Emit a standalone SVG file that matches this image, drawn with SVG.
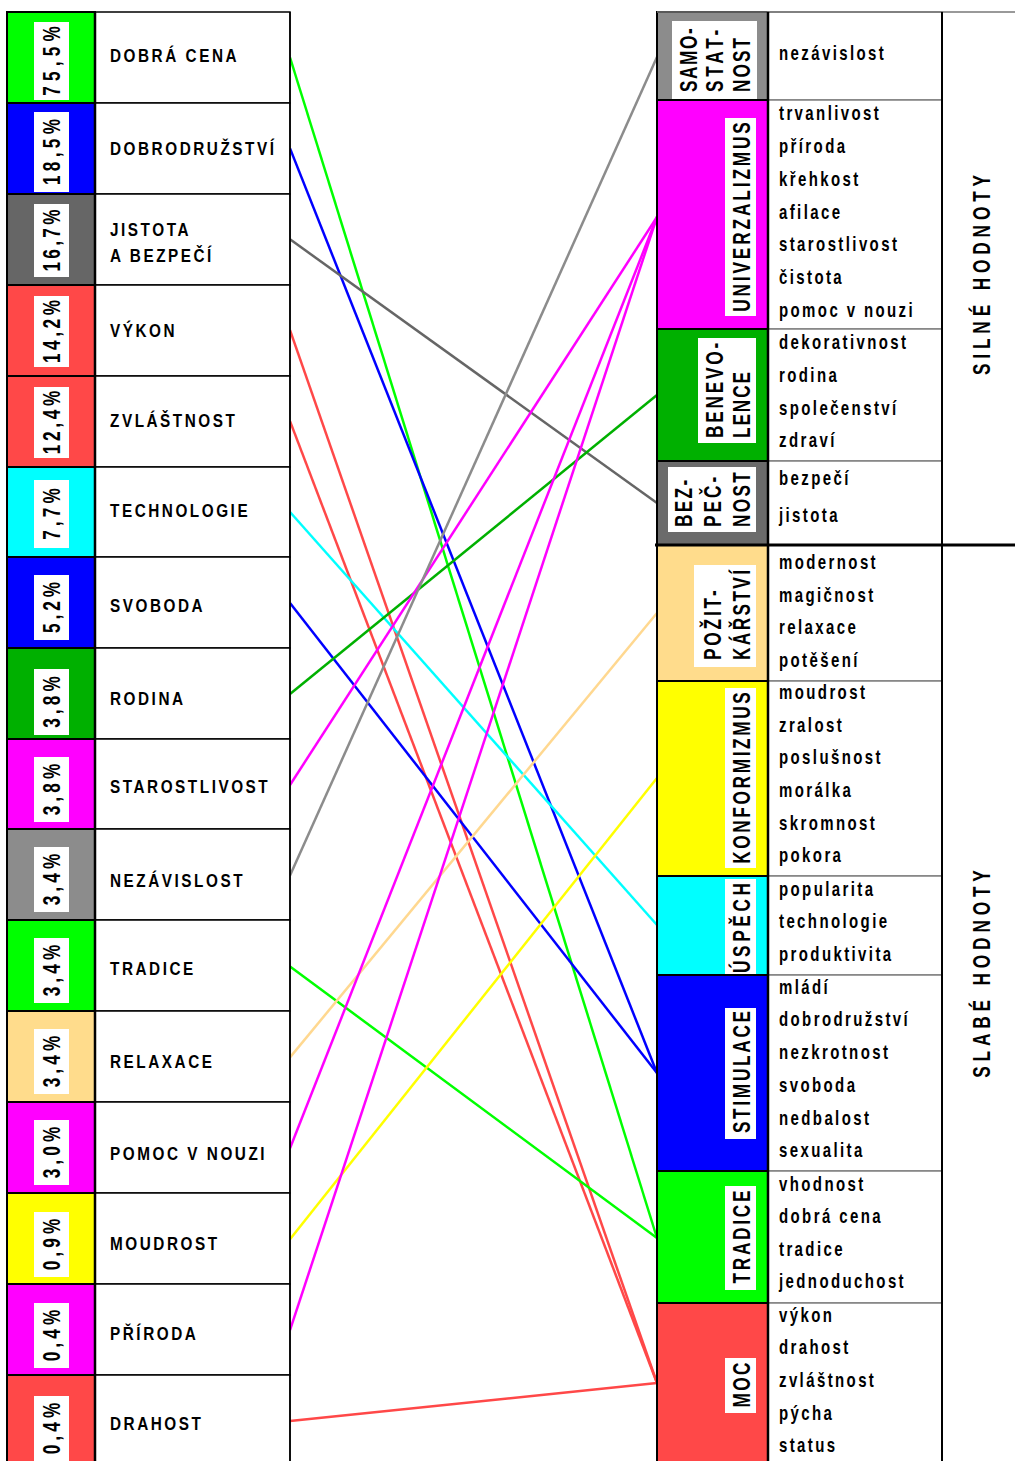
<svg xmlns="http://www.w3.org/2000/svg" width="1015" height="1461" viewBox="0 0 1015 1461">
<style>
text{font-family:"Liberation Sans",Arial,sans-serif;font-weight:bold;fill:#000}
.c{stroke:#000;stroke-width:2}
.t{fill:#fff;stroke:#000;stroke-width:1.5}
.li{fill:#fff;stroke:#808080;stroke-width:1.5}
.wb{fill:#fff}
.pct{font-size:23px;text-anchor:middle}
.lbl{font-size:18px;letter-spacing:3px}
.it{font-size:20px;letter-spacing:3.2px}
.vl{font-size:23px}
.vm{font-size:23px;text-anchor:middle}
.big{font-size:23px;text-anchor:middle}
#connectors line{stroke-width:2.5;fill:none}
</style>
<rect width="1015" height="1461" fill="#fff"/>

<g id="connectors">
<line x1="290" y1="57.5" x2="657" y2="1238" stroke="#00ff00"/>
<line x1="290" y1="148.4" x2="657" y2="1073" stroke="#0000ff"/>
<line x1="290" y1="239.3" x2="657" y2="503" stroke="#666666"/>
<line x1="290" y1="330.2" x2="657" y2="1383" stroke="#ff4848"/>
<line x1="290" y1="421.1" x2="657" y2="1383" stroke="#ff4848"/>
<line x1="290" y1="512" x2="657" y2="925" stroke="#00ffff"/>
<line x1="290" y1="603" x2="657" y2="1073" stroke="#0000ff"/>
<line x1="290" y1="694" x2="657" y2="395" stroke="#00b000"/>
<line x1="290" y1="785" x2="657" y2="217" stroke="#ff00ff"/>
<line x1="290" y1="875.6" x2="657" y2="57" stroke="#8c8c8c"/>
<line x1="290" y1="966.5" x2="657" y2="1238" stroke="#00ff00"/>
<line x1="290" y1="1057.4" x2="657" y2="613" stroke="#ffd890"/>
<line x1="290" y1="1148.3" x2="657" y2="217" stroke="#ff00ff"/>
<line x1="290" y1="1239.2" x2="657" y2="778" stroke="#ffff00"/>
<line x1="290" y1="1330.1" x2="657" y2="217" stroke="#ff00ff"/>
<line x1="290" y1="1421" x2="657" y2="1383" stroke="#ff4848"/>
</g>

<!-- LEFT COLUMN -->
<g id="l-dobra-cena">
<rect class="c" x="7" y="12" width="88" height="91" fill="#00ff00"/><rect class="t" x="95" y="12" width="195" height="91"/>
<rect class="wb" x="34" y="22" width="35" height="78"/>
<text class="pct" transform="translate(60,61) rotate(-90) scale(0.75,1)" textLength="93" lengthAdjust="spacing">75,5%</text>
<text class="lbl" transform="translate(110,62) scale(0.85,1)">DOBRÁ CENA</text>
</g>
<g id="l-dobrodruzstvi">
<rect class="c" x="7" y="103" width="88" height="91" fill="#0000ff"/><rect class="t" x="95" y="103" width="195" height="91"/>
<rect class="wb" x="34" y="112" width="35" height="80"/>
<text class="pct" transform="translate(60,152) rotate(-90) scale(0.75,1)" textLength="88" lengthAdjust="spacing">18,5%</text>
<text class="lbl" transform="translate(110,155) scale(0.85,1)">DOBRODRUŽSTVÍ</text>
</g>
<g id="l-jistota">
<rect class="c" x="7" y="194" width="88" height="91" fill="#666666"/><rect class="t" x="95" y="194" width="195" height="91"/>
<rect class="wb" x="34" y="204" width="35" height="73"/>
<text class="pct" transform="translate(60,240.5) rotate(-90) scale(0.75,1)" textLength="83" lengthAdjust="spacing">16,7%</text>
<text class="lbl" transform="translate(110,236) scale(0.85,1)">JISTOTA</text>
<text class="lbl" transform="translate(110,262) scale(0.85,1)">A BEZPEČÍ</text>
</g>
<g id="l-vykon">
<rect class="c" x="7" y="285" width="88" height="91" fill="#ff4848"/><rect class="t" x="95" y="285" width="195" height="91"/>
<rect class="wb" x="34" y="296" width="35" height="71"/>
<text class="pct" transform="translate(60,331.5) rotate(-90) scale(0.75,1)" textLength="84" lengthAdjust="spacing">14,2%</text>
<text class="lbl" transform="translate(110,336.5) scale(0.85,1)">VÝKON</text>
</g>
<g id="l-zvlastnost">
<rect class="c" x="7" y="376" width="88" height="91" fill="#ff4848"/><rect class="t" x="95" y="376" width="195" height="91"/>
<rect class="wb" x="34" y="387" width="35" height="71"/>
<text class="pct" transform="translate(60,422.5) rotate(-90) scale(0.75,1)" textLength="85" lengthAdjust="spacing">12,4%</text>
<text class="lbl" transform="translate(110,427) scale(0.85,1)">ZVLÁŠTNOST</text>
</g>
<g id="l-technologie">
<rect class="c" x="7" y="467" width="88" height="90" fill="#00ffff"/><rect class="t" x="95" y="467" width="195" height="90"/>
<rect class="wb" x="34" y="480" width="35" height="68"/>
<text class="pct" transform="translate(60,514) rotate(-90) scale(0.75,1)" textLength="69" lengthAdjust="spacing">7,7%</text>
<text class="lbl" transform="translate(110,517) scale(0.85,1)">TECHNOLOGIE</text>
</g>
<g id="l-svoboda">
<rect class="c" x="7" y="557" width="88" height="91" fill="#0000ff"/><rect class="t" x="95" y="557" width="195" height="91"/>
<rect class="wb" x="34" y="575" width="35" height="65"/>
<text class="pct" transform="translate(60,607.5) rotate(-90) scale(0.75,1)" textLength="68" lengthAdjust="spacing">5,2%</text>
<text class="lbl" transform="translate(110,611.5) scale(0.85,1)">SVOBODA</text>
</g>
<g id="l-rodina">
<rect class="c" x="7" y="648" width="88" height="91" fill="#00b000"/><rect class="t" x="95" y="648" width="195" height="91"/>
<rect class="wb" x="34" y="669" width="35" height="66"/>
<text class="pct" transform="translate(60,702) rotate(-90) scale(0.75,1)" textLength="69" lengthAdjust="spacing">3,8%</text>
<text class="lbl" transform="translate(110,705) scale(0.85,1)">RODINA</text>
</g>
<g id="l-starostlivost">
<rect class="c" x="7" y="739" width="88" height="90" fill="#ff00ff"/><rect class="t" x="95" y="739" width="195" height="90"/>
<rect class="wb" x="34" y="757" width="35" height="65"/>
<text class="pct" transform="translate(60,789.5) rotate(-90) scale(0.75,1)" textLength="69" lengthAdjust="spacing">3,8%</text>
<text class="lbl" transform="translate(110,793) scale(0.85,1)">STAROSTLIVOST</text>
</g>
<g id="l-nezavislost">
<rect class="c" x="7" y="829" width="88" height="91" fill="#8c8c8c"/><rect class="t" x="95" y="829" width="195" height="91"/>
<rect class="wb" x="34" y="847" width="35" height="65"/>
<text class="pct" transform="translate(60,879.5) rotate(-90) scale(0.75,1)" textLength="69" lengthAdjust="spacing">3,4%</text>
<text class="lbl" transform="translate(110,887) scale(0.85,1)">NEZÁVISLOST</text>
</g>
<g id="l-tradice">
<rect class="c" x="7" y="920" width="88" height="91" fill="#00ff00"/><rect class="t" x="95" y="920" width="195" height="91"/>
<rect class="wb" x="34" y="938" width="35" height="65"/>
<text class="pct" transform="translate(60,970.5) rotate(-90) scale(0.75,1)" textLength="69" lengthAdjust="spacing">3,4%</text>
<text class="lbl" transform="translate(110,975) scale(0.85,1)">TRADICE</text>
</g>
<g id="l-relaxace">
<rect class="c" x="7" y="1011" width="88" height="91" fill="#ffdc8c"/><rect class="t" x="95" y="1011" width="195" height="91"/>
<rect class="wb" x="34" y="1029" width="35" height="65"/>
<text class="pct" transform="translate(60,1061.5) rotate(-90) scale(0.75,1)" textLength="69" lengthAdjust="spacing">3,4%</text>
<text class="lbl" transform="translate(110,1068) scale(0.85,1)">RELAXACE</text>
</g>
<g id="l-pomoc">
<rect class="c" x="7" y="1102" width="88" height="91" fill="#ff00ff"/><rect class="t" x="95" y="1102" width="195" height="91"/>
<rect class="wb" x="34" y="1120" width="35" height="65"/>
<text class="pct" transform="translate(60,1152.5) rotate(-90) scale(0.75,1)" textLength="69" lengthAdjust="spacing">3,0%</text>
<text class="lbl" transform="translate(110,1160) scale(0.85,1)">POMOC V NOUZI</text>
</g>
<g id="l-moudrost">
<rect class="c" x="7" y="1193" width="88" height="91" fill="#ffff00"/><rect class="t" x="95" y="1193" width="195" height="91"/>
<rect class="wb" x="34" y="1212" width="35" height="65"/>
<text class="pct" transform="translate(60,1244.5) rotate(-90) scale(0.75,1)" textLength="69" lengthAdjust="spacing">0,9%</text>
<text class="lbl" transform="translate(110,1250) scale(0.85,1)">MOUDROST</text>
</g>
<g id="l-priroda">
<rect class="c" x="7" y="1284" width="88" height="91" fill="#ff00ff"/><rect class="t" x="95" y="1284" width="195" height="91"/>
<rect class="wb" x="34" y="1303" width="35" height="65"/>
<text class="pct" transform="translate(60,1335.5) rotate(-90) scale(0.75,1)" textLength="69" lengthAdjust="spacing">0,4%</text>
<text class="lbl" transform="translate(110,1340) scale(0.85,1)">PŘÍRODA</text>
</g>
<g id="l-drahost">
<rect class="c" x="7" y="1375" width="88" height="95" fill="#ff4848"/><rect class="t" x="95" y="1375" width="195" height="95"/>
<rect class="wb" x="34" y="1396" width="35" height="70"/>
<text class="pct" transform="translate(60,1428.5) rotate(-90) scale(0.75,1)" textLength="69" lengthAdjust="spacing">0,4%</text>
<text class="lbl" transform="translate(110,1430) scale(0.85,1)">DRAHOST</text>
</g>

<!-- RIGHT COLUMN -->
<g id="r-samostatnost">
<rect class="c" x="657" y="12" width="111" height="88" fill="#8c8c8c"/><rect class="li" x="768" y="12" width="174" height="88"/>
<rect class="wb" x="672" y="21" width="85" height="78"/>
<text class="vl" transform="translate(697,92) rotate(-90) scale(0.75,1)" textLength="85" lengthAdjust="spacing">SAMO-</text>
<text class="vl" transform="translate(723,92) rotate(-90) scale(0.75,1)" textLength="83" lengthAdjust="spacing">STAT-</text>
<text class="vl" transform="translate(750,92) rotate(-90) scale(0.75,1)" textLength="72" lengthAdjust="spacing">NOST</text>
<g transform="translate(779,0) scale(0.75,1)"><text class="it" y="60">nezávislost</text></g>
</g>
<g id="r-univerzalizmus">
<rect class="c" x="657" y="100" width="111" height="229" fill="#ff00ff"/><rect class="li" x="768" y="100" width="174" height="229"/>
<rect class="wb" x="725" y="118" width="31" height="198"/>
<text class="vm" transform="translate(750,217) rotate(-90) scale(0.75,1)" textLength="253" lengthAdjust="spacing">UNIVERZALIZMUS</text>
<g transform="translate(779,0) scale(0.75,1)">
<text class="it" y="120">trvanlivost</text><text class="it" y="153">příroda</text><text class="it" y="186">křehkost</text><text class="it" y="219">afilace</text><text class="it" y="251">starostlivost</text><text class="it" y="284">čistota</text><text class="it" y="317">pomoc v nouzi</text>
</g>
</g>
<g id="r-benevolence">
<rect class="c" x="657" y="329" width="111" height="132" fill="#00b000"/><rect class="li" x="768" y="329" width="174" height="132"/>
<rect class="wb" x="698" y="338" width="58" height="105"/>
<text class="vl" transform="translate(723,438) rotate(-90) scale(0.75,1)" textLength="127" lengthAdjust="spacing">BENEVO-</text>
<text class="vl" transform="translate(750,438) rotate(-90) scale(0.75,1)" textLength="88" lengthAdjust="spacing">LENCE</text>
<g transform="translate(779,0) scale(0.75,1)">
<text class="it" y="349">dekorativnost</text><text class="it" y="382">rodina</text><text class="it" y="415">společenství</text><text class="it" y="447">zdraví</text>
</g>
</g>
<g id="r-bezpecnost">
<rect class="c" x="657" y="461" width="111" height="84" fill="#6b6b6b"/><rect class="li" x="768" y="461" width="174" height="84"/>
<rect class="wb" x="668" y="467" width="88" height="65"/>
<text class="vl" transform="translate(692,527) rotate(-90) scale(0.75,1)" textLength="63" lengthAdjust="spacing">BEZ-</text>
<text class="vl" transform="translate(721,527) rotate(-90) scale(0.75,1)" textLength="67" lengthAdjust="spacing">PEČ-</text>
<text class="vl" transform="translate(750,527) rotate(-90) scale(0.75,1)" textLength="73" lengthAdjust="spacing">NOST</text>
<g transform="translate(779,0) scale(0.75,1)">
<text class="it" y="485">bezpečí</text><text class="it" y="522">jistota</text>
</g>
</g>
<g id="r-pozitkarstvi">
<rect class="c" x="657" y="545" width="111" height="136" fill="#ffdc8c"/><rect class="li" x="768" y="545" width="174" height="136"/>
<rect class="wb" x="694" y="565" width="62" height="102"/>
<text class="vl" transform="translate(721,660) rotate(-90) scale(0.75,1)" textLength="93" lengthAdjust="spacing">POŽIT-</text>
<text class="vl" transform="translate(750,660) rotate(-90) scale(0.75,1)" textLength="120" lengthAdjust="spacing">KÁŘSTVÍ</text>
<g transform="translate(779,0) scale(0.75,1)">
<text class="it" y="569">modernost</text><text class="it" y="602">magičnost</text><text class="it" y="634">relaxace</text><text class="it" y="667">potěšení</text>
</g>
</g>
<g id="r-konformizmus">
<rect class="c" x="657" y="681" width="111" height="195" fill="#ffff00"/><rect class="li" x="768" y="681" width="174" height="195"/>
<rect class="wb" x="725" y="688" width="31" height="180"/>
<text class="vm" transform="translate(750,778) rotate(-90) scale(0.75,1)" textLength="229" lengthAdjust="spacing">KONFORMIZMUS</text>
<g transform="translate(779,0) scale(0.75,1)">
<text class="it" y="699">moudrost</text><text class="it" y="732">zralost</text><text class="it" y="764">poslušnost</text><text class="it" y="797">morálka</text><text class="it" y="830">skromnost</text><text class="it" y="862">pokora</text>
</g>
</g>
<g id="r-uspech">
<rect class="c" x="657" y="876" width="111" height="99" fill="#00ffff"/><rect class="li" x="768" y="876" width="174" height="99"/>
<rect class="wb" x="725" y="879" width="31" height="96"/>
<text class="vm" transform="translate(750,928) rotate(-90) scale(0.75,1)" textLength="120" lengthAdjust="spacing">ÚSPĚCH</text>
<g transform="translate(779,0) scale(0.75,1)">
<text class="it" y="896">popularita</text><text class="it" y="928">technologie</text><text class="it" y="961">produktivita</text>
</g>
</g>
<g id="r-stimulace">
<rect class="c" x="657" y="975" width="111" height="196" fill="#0000ff"/><rect class="li" x="768" y="975" width="174" height="196"/>
<rect class="wb" x="725" y="1008" width="31" height="131"/>
<text class="vm" transform="translate(750,1072) rotate(-90) scale(0.75,1)" textLength="163" lengthAdjust="spacing">STIMULACE</text>
<g transform="translate(779,0) scale(0.75,1)">
<text class="it" y="994">mládí</text><text class="it" y="1026">dobrodružství</text><text class="it" y="1059">nezkrotnost</text><text class="it" y="1092">svoboda</text><text class="it" y="1125">nedbalost</text><text class="it" y="1157">sexualita</text>
</g>
</g>
<g id="r-tradice">
<rect class="c" x="657" y="1171" width="111" height="132" fill="#00ff00"/><rect class="li" x="768" y="1171" width="174" height="132"/>
<rect class="wb" x="725" y="1186" width="31" height="104"/>
<text class="vm" transform="translate(750,1237) rotate(-90) scale(0.75,1)" textLength="124" lengthAdjust="spacing">TRADICE</text>
<g transform="translate(779,0) scale(0.75,1)">
<text class="it" y="1191">vhodnost</text><text class="it" y="1223">dobrá cena</text><text class="it" y="1256">tradice</text><text class="it" y="1288">jednoduchost</text>
</g>
</g>
<g id="r-moc">
<rect class="c" x="657" y="1303" width="111" height="165" fill="#ff4848"/><rect class="li" x="768" y="1303" width="174" height="165"/>
<rect class="wb" x="725" y="1358" width="31" height="55"/>
<text class="vm" transform="translate(750,1385) rotate(-90) scale(0.75,1)" textLength="60" lengthAdjust="spacing">MOC</text>
<g transform="translate(779,0) scale(0.75,1)">
<text class="it" y="1322">výkon</text><text class="it" y="1354">drahost</text><text class="it" y="1387">zvláštnost</text><text class="it" y="1420">pýcha</text><text class="it" y="1452">status</text>
</g>
</g>

<g id="silne-hodnoty">
<text class="big" transform="translate(990,275) rotate(-90) scale(0.75,1)" textLength="267" lengthAdjust="spacing">SILNÉ HODNOTY</text>
</g>
<g id="slabe-hodnoty">
<text class="big" transform="translate(990,974) rotate(-90) scale(0.75,1)" textLength="277" lengthAdjust="spacing">SLABÉ HODNOTY</text>
</g>

<g id="frame" fill="none">
<line x1="657" y1="12" x2="1015" y2="12" stroke="#777" stroke-width="1.5"/>
<line x1="942" y1="12" x2="942" y2="1461" stroke="#000" stroke-width="2"/>
<line x1="768" y1="12" x2="768" y2="1461" stroke="#000" stroke-width="2.5"/>
<line x1="655" y1="545" x2="1015" y2="545" stroke="#000" stroke-width="3"/>
<line x1="290" y1="12" x2="290" y2="1461" stroke="#000" stroke-width="1.5"/>
<line x1="95" y1="12" x2="95" y2="1461" stroke="#000" stroke-width="2.5"/>
</g>
</svg>
